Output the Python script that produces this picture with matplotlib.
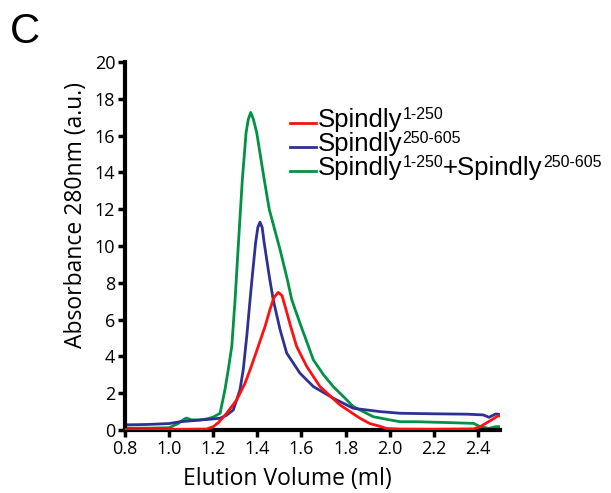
import matplotlib
matplotlib.use("Agg")
import matplotlib.pyplot as plt
from matplotlib.lines import Line2D

# Elution profiles (A280) for the three Spindly samples
red_x = [0.80, 1.00, 1.17, 1.20, 1.223, 1.261, 1.306, 1.344, 1.367, 1.397, 1.435, 1.457,
         1.475, 1.495, 1.512, 1.530, 1.551, 1.578, 1.624, 1.684, 1.775, 1.82, 1.865,
         1.91, 1.956, 1.986, 2.047, 2.20, 2.38, 2.41, 2.455, 2.49, 2.50]
red_y = [0.02, 0.03, 0.05, 0.18, 0.40, 0.91, 1.63, 2.54, 3.27, 4.3, 5.63, 6.54,
         7.2, 7.48, 7.3, 6.54, 5.63, 4.54, 3.45, 2.36, 1.36, 1.0, 0.64,
         0.35, 0.20, 0.08, 0.05, 0.04, 0.06, 0.18, 0.50, 0.76, 0.78]

blue_x = [0.80, 0.90, 1.00, 1.05, 1.10, 1.14, 1.20, 1.231, 1.26, 1.291, 1.321, 1.336,
          1.352, 1.367, 1.377, 1.392, 1.402, 1.412, 1.422, 1.431, 1.454, 1.472, 1.503,
          1.533, 1.593, 1.654, 1.744, 1.835, 1.956, 2.047, 2.20, 2.35, 2.424, 2.45,
          2.48, 2.50]
blue_y = [0.28, 0.30, 0.35, 0.45, 0.50, 0.54, 0.60, 0.64, 0.80, 1.09, 2.18, 3.27,
          5.1, 7.08, 8.36, 10.17, 11.0, 11.3, 11.0, 10.17, 8.36, 7.08, 5.45,
          4.18, 3.09, 2.36, 1.73, 1.18, 1.0, 0.91, 0.88, 0.86, 0.82, 0.69,
          0.87, 0.85]

green_x = [0.80, 0.90, 1.00, 1.04, 1.07, 1.08, 1.10, 1.14, 1.17, 1.20, 1.231, 1.253,
           1.268, 1.284, 1.299, 1.315, 1.332, 1.349, 1.359, 1.370, 1.382, 1.397,
           1.431, 1.454, 1.503, 1.536, 1.556, 1.593, 1.654, 1.70, 1.744, 1.80, 1.835,
           1.926, 2.00, 2.047, 2.12, 2.273, 2.38, 2.41, 2.45, 2.48, 2.50]
green_y = [0.10, 0.10, 0.12, 0.35, 0.60, 0.65, 0.55, 0.55, 0.60, 0.70, 0.91, 2.18,
           3.27, 4.54, 7.08, 10.3, 13.62, 16.17, 16.89, 17.26, 16.89, 16.17,
           13.62, 11.99, 9.8, 8.17, 7.08, 5.81, 3.81, 3.0, 2.36, 1.7, 1.27,
           0.72, 0.55, 0.45, 0.45, 0.40, 0.36, 0.18, 0.09, 0.18, 0.18]

# Legend entries: alternating (base text, superscript) pieces
legend_rows = [
    [("Spindly", "1-250")],
    [("Spindly", "250-605")],
    [("Spindly", "1-250"), ("+Spindly", "250-605")],
]
colors = ["#ff1010", "#2e3192", "#009245"]

x_ticks = [0.8, 1.0, 1.2, 1.4, 1.6, 1.8, 2.0, 2.2, 2.4]
y_ticks = [0, 2, 4, 6, 8, 10, 12, 14, 16, 18, 20]

tick_font = "Open Sans"
legend_font = "Liberation Sans"

W, H = 611, 493
fig = plt.figure(figsize=(W / 100, H / 100), dpi=100)
ax = fig.add_axes([125 / W, 1 - 430 / H, 375 / W, 368 / H])

lw = 2.0
ax.plot(red_x, red_y, color=colors[0], lw=lw, zorder=3)
ax.plot(blue_x, blue_y, color=colors[1], lw=lw, zorder=2)
ax.plot(green_x, green_y, color=colors[2], lw=lw, zorder=1)

ax.set_xlim(0.8, 2.5)
ax.set_ylim(0, 20)
ax.set_xticks(x_ticks)
ax.set_yticks(y_ticks)
ax.set_xticklabels([f"{v:.1f}" for v in x_ticks], fontfamily=tick_font, fontsize=13)
ax.set_yticklabels([str(v) for v in y_ticks], fontfamily=tick_font, fontsize=13)
ax.tick_params(direction="out", length=5, width=2.5, pad=2, colors="black")

for side in ("top", "right"):
    ax.spines[side].set_visible(False)
for side in ("left", "bottom"):
    ax.spines[side].set_linewidth(3)

ax.set_xlabel("Elution Volume (ml)", fontfamily=tick_font, fontsize=16.5)
ax.set_ylabel("Absorbance 280nm (a.u.)", fontfamily=tick_font, fontsize=16.5)
ax.xaxis.set_label_coords(0.432, -0.132)
ax.yaxis.set_label_coords(-0.13, 0.584)
ax.xaxis.label.set_va("center")
ax.yaxis.label.set_va("center")

# Legend: short coloured keys followed by text with small superscripts
base_size, sup_size = 18.5, 11.5
baselines = [127, 151, 175]
for color, pieces, yb in zip(colors, legend_rows, baselines):
    fy = 1 - yb / H
    fig.add_artist(Line2D([290 / W, 316 / W], [fy + 4 / H, fy + 4 / H],
                          color=color, lw=2, transform=fig.transFigure))
    prev = None
    first = None
    for base, sup in pieces:
        if prev is None:
            t = fig.text(318 / W, fy, base, fontfamily=legend_font,
                         fontsize=base_size, va="baseline", ha="left")
            first = t
        else:
            t = ax.annotate(base, xy=(1, 0), xycoords=(prev, first),
                            fontfamily=legend_font, fontsize=base_size,
                            va="bottom", ha="left", annotation_clip=False)
        s = ax.annotate(sup, xy=(1, 1), xycoords=(t, first),
                        xytext=(0, 0.5), textcoords="offset points",
                        fontfamily=legend_font, fontsize=sup_size,
                        va="top", ha="left", annotation_clip=False)
        prev = s

fig.text(10 / W, 1 - 12 / H, "C", fontfamily="Liberation Sans", fontsize=30,
         va="top", ha="left")

fig.savefig("out.png", dpi=100)
